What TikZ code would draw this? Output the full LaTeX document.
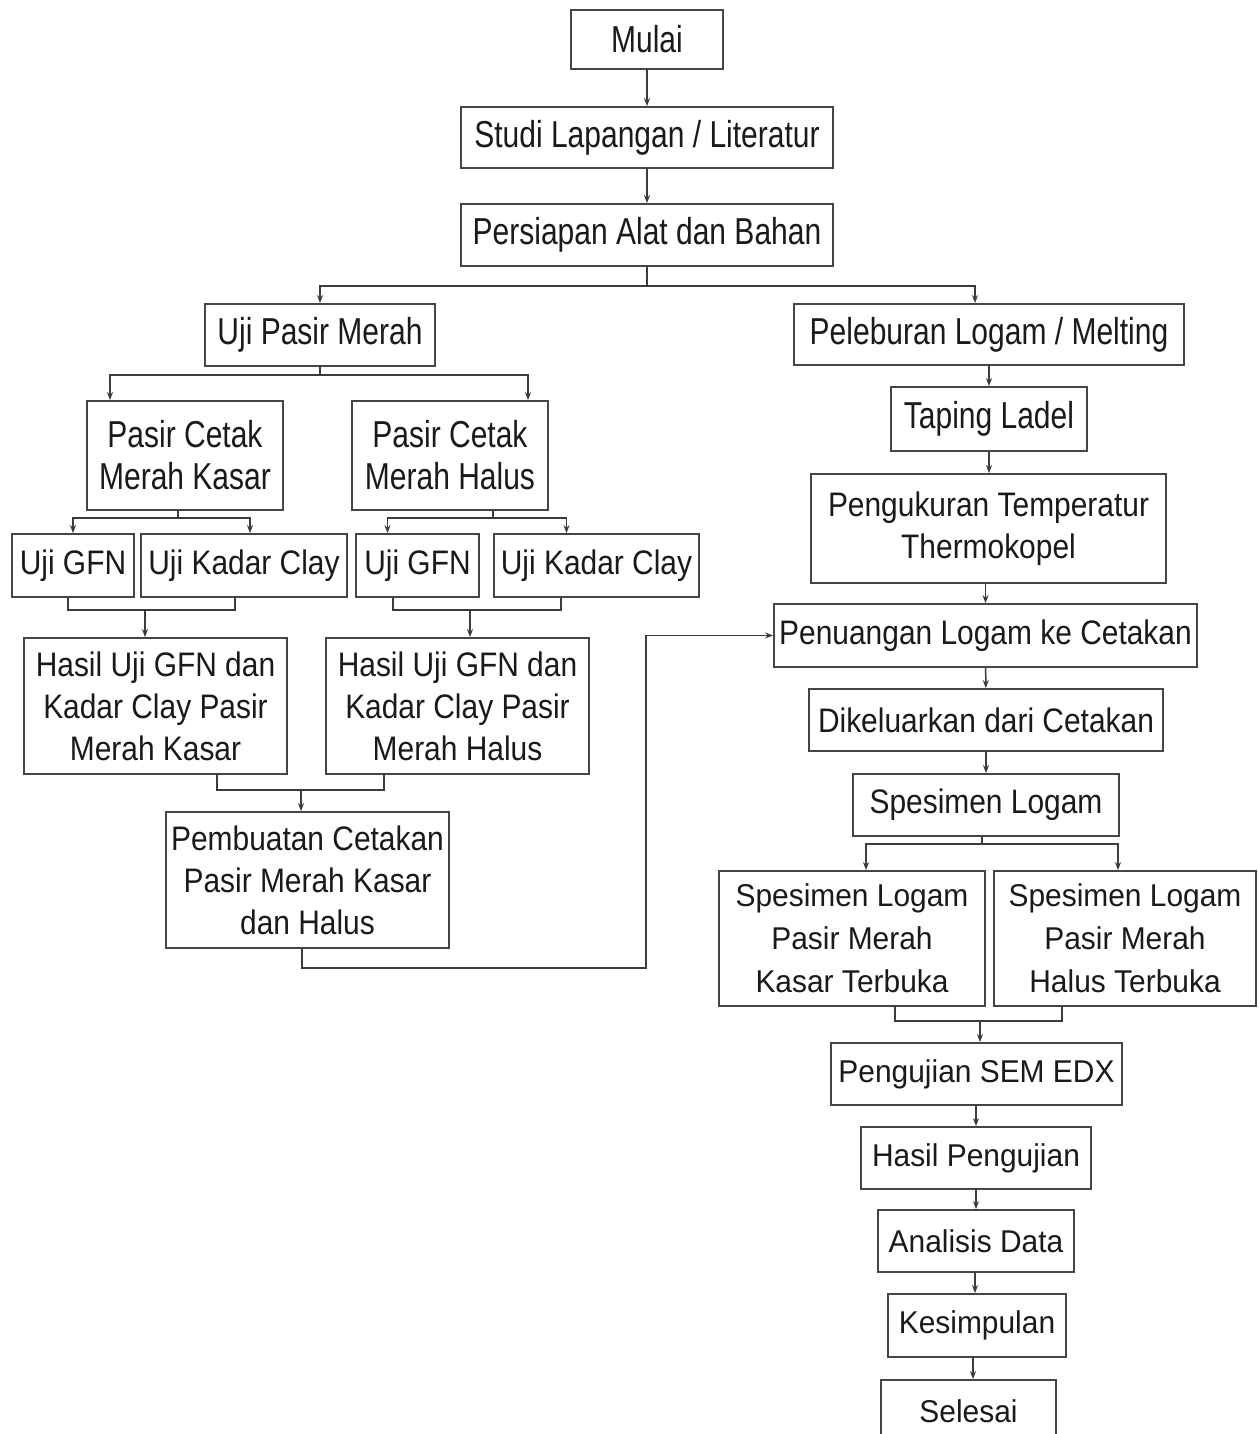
\documentclass[tikz,border=0pt]{standalone}
\usepackage{fontspec}
\setmainfont{Liberation Sans}
\newfontfamily\fA[FakeStretch=0.8]{Liberation Sans}
\newfontfamily\fB[FakeStretch=0.88]{Liberation Sans}
\newfontfamily\fC[FakeStretch=0.95]{Liberation Sans}
\usetikzlibrary{arrows.meta,calc}
\definecolor{boxc}{HTML}{454545}
\definecolor{txt}{HTML}{1A1A1A}
\definecolor{linec}{HTML}{3C3C3C}
\tikzset{
 box/.style={draw=boxc,line width=1.8pt,inner sep=1pt,align=center,text=txt,fill=white},
 tA/.style={font=\fontsize{37.5}{42}\fA},
 tB/.style={font=\fontsize{34}{42}\fB},
 tC/.style={font=\fontsize{31.5}{43}\fC},
 arr/.style={draw=linec,line width=1.5pt,-{Stealth[length=8pt,width=6pt]}},
 ln/.style={draw=linec,line width=1.5pt},
}
\begin{document}
\begin{tikzpicture}[x=1pt,y=-1pt]
\useasboundingbox (0,0) rectangle (1258,1434);
\clip (0,0) rectangle (1258,1434);
\fill[white] (0,0) rectangle (1258,1434);

% top
\node[box,tA,minimum width=152pt,minimum height=59pt] (mulai) at (647,39.5) {Mulai};
\node[box,tA,minimum width=372pt,minimum height=61pt] (studi) at (647,137.5) {Studi Lapangan / Literatur};
\node[box,tA,minimum width=372pt,minimum height=62pt] (pers) at (647,235) {Persiapan Alat dan Bahan};

% left branch
\node[box,tA,minimum width=230pt,minimum height=62pt] (upm) at (320,335) {Uji Pasir Merah};
\node[box,tA,minimum width=196pt,minimum height=109pt] (kasar) at (185,455.5) {Pasir Cetak\\Merah Kasar};
\node[box,tA,minimum width=196pt,minimum height=109pt] (halus) at (450,455.5) {Pasir Cetak\\Merah Halus};
\node[box,tB,minimum width=122pt,minimum height=63pt] (gfn1) at (73,565.5) {Uji GFN};
\node[box,tB,minimum width=206pt,minimum height=63pt] (clay1) at (244,565.5) {Uji Kadar Clay};
\node[box,tB,minimum width=123pt,minimum height=63pt] (gfn2) at (417.5,565.5) {Uji GFN};
\node[box,tB,minimum width=205pt,minimum height=63pt] (clay2) at (596.5,565.5) {Uji Kadar Clay};
\node[box,tB,minimum width=263pt,minimum height=136pt] (hasil1) at (155.5,706) {Hasil Uji GFN dan\\Kadar Clay Pasir\\Merah Kasar};
\node[box,tB,minimum width=263pt,minimum height=136pt] (hasil2) at (457.5,706) {Hasil Uji GFN dan\\Kadar Clay Pasir\\Merah Halus};
\node[box,tB,minimum width=283pt,minimum height=136pt] (pemb) at (307.5,880) {Pembuatan Cetakan\\Pasir Merah Kasar\\dan Halus};

% right branch
\node[box,tA,minimum width=390pt,minimum height=61pt] (pel) at (989,334.5) {Peleburan Logam / Melting};
\node[box,tA,minimum width=196pt,minimum height=64pt] (tap) at (989,419) {Taping Ladel};
\node[box,tB,minimum width=355pt,minimum height=109pt] (peng) at (988.5,528.5) {Pengukuran Temperatur\\Thermokopel};
\node[box,tB,minimum width=423pt,minimum height=63pt] (pen) at (985.5,635.5) {Penuangan Logam ke Cetakan};
\node[box,tB,minimum width=354pt,minimum height=62pt] (dik) at (986,720) {Dikeluarkan dari Cetakan};
\node[box,tB,minimum width=266pt,minimum height=62pt] (spl) at (986,805) {Spesimen Logam};
\node[box,tC,minimum width=266pt,minimum height=135pt] (sk) at (852,938.5) {Spesimen Logam\\Pasir Merah\\Kasar Terbuka};
\node[box,tC,minimum width=262pt,minimum height=135pt] (sh) at (1125,938.5) {Spesimen Logam\\Pasir Merah\\Halus Terbuka};
\node[box,tC,minimum width=291pt,minimum height=62pt] (sem) at (976.5,1074) {Pengujian SEM EDX};
\node[box,tC,minimum width=230pt,minimum height=62pt] (hp) at (976,1158) {Hasil Pengujian};
\node[box,tC,minimum width=196pt,minimum height=62pt] (ad) at (976,1241) {Analisis Data};
\node[box,tC,minimum width=178pt,minimum height=63pt] (kes) at (977,1325.5) {Kesimpulan};
\node[box,tC,minimum width=175pt,minimum height=62pt] (sel) at (968.5,1411) {Selesai};

% junction coordinates
\coordinate (b1) at (647,286);
\coordinate (b2) at (320,375);
\coordinate (b3) at (178,518);
\coordinate (b4) at (493,518);
\coordinate (b5) at (145,610);
\coordinate (b6) at (470,610);
\coordinate (b7) at (301,790);
\coordinate (b8) at (646,968);
\coordinate (b9) at (982,844);
\coordinate (b10) at (980,1021);

% connectors top
\draw[arr] (mulai) -- (studi);
\draw[arr] (studi) -- (pers);
\draw[ln] (pers.south) -- (b1);
\draw[arr] (b1) -| (upm.north);
\draw[arr] (b1) -| ([xshift=-14pt]pel.north);

% left
\draw[ln] (upm.south) -- (b2);
\draw[arr] (b2) -| ([xshift=-75pt]kasar.north);
\draw[arr] (b2) -| ([xshift=78pt]halus.north);
\draw[ln] ([xshift=-7pt]kasar.south) -- (b3);
\draw[arr] (b3) -| (gfn1.north);
\draw[arr] (b3) -| ([xshift=6pt]clay1.north);
\draw[ln] ([xshift=43pt]halus.south) -- (b4);
\draw[arr] (b4) -| ([xshift=-30pt]gfn2.north);
\draw[arr] (b4) -| ([xshift=-30pt]clay2.north);
\draw[ln] ([xshift=-5pt]gfn1.south) |- (b5) -| ([xshift=-9pt]clay1.south);
\draw[arr] (b5) -- (hasil1.north -| b5);
\draw[ln] ([xshift=-24.5pt]gfn2.south) |- (b6) -| ([xshift=-35.5pt]clay2.south);
\draw[arr] (b6) -- (hasil2.north -| b6);
\draw[ln] ([xshift=61.5pt]hasil1.south) |- (b7) -| ([xshift=-73.5pt]hasil2.south);
\draw[arr] (b7) -- (pemb.north -| b7);
\draw[arr] ([xshift=-5.5pt]pemb.south) |- (b8) |- (pen.west);

% right
\draw[arr] (pel) -- (tap);
\draw[arr] (tap.south) -- (tap.south |- peng.north);
\draw[arr] (pen.north |- peng.south) -- (pen.north);
\draw[arr] (pen) -- (dik);
\draw[arr] (dik) -- (spl);
\draw[ln] ([xshift=-4pt]spl.south) -- (b9);
\draw[arr] (b9) -| ([xshift=14pt]sk.north);
\draw[arr] (b9) -| ([xshift=-7pt]sh.north);
\draw[ln] ([xshift=43pt]sk.south) |- (b10) -| ([xshift=-63pt]sh.south);
\draw[arr] (b10) -- (sem.north -| b10);
\draw[arr] (sem.south -| hp) -- (hp.north);
\draw[arr] (hp) -- (ad);
\draw[arr] (ad.south -| 975,0) -- (kes.north -| 975,0);
\draw[arr] (kes.south -| 973,0) -- (sel.north -| 973,0);
\end{tikzpicture}
\end{document}
